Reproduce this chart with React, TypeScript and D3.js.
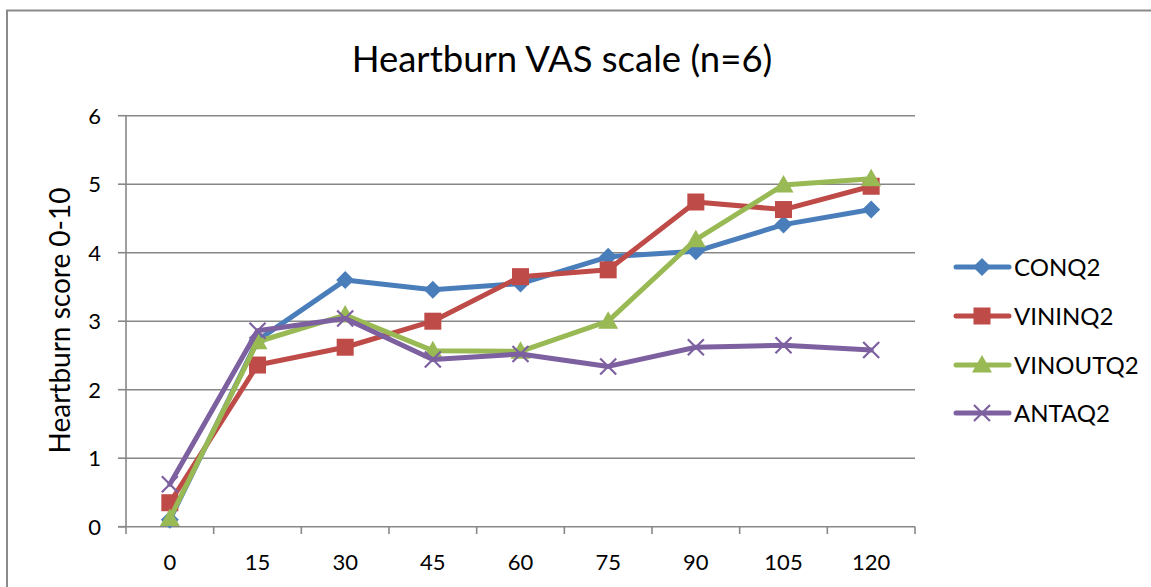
import React from "react";
import * as d3 from "d3";

const categories = ["0", "15", "30", "45", "60", "75", "90", "105", "120"];
const seriesNames = ["CONQ2", "VININQ2", "VINOUTQ2", "ANTAQ2"];
const conq2 = [0.1, 2.72, 3.6, 3.46, 3.55, 3.94, 4.02, 4.41, 4.63];
const vininq2 = [0.35, 2.36, 2.62, 3.0, 3.65, 3.75, 4.74, 4.63, 4.97];
const vinoutq2 = [0.12, 2.7, 3.09, 2.57, 2.56, 3.0, 4.19, 4.99, 5.08];
const antaq2 = [0.62, 2.86, 3.04, 2.44, 2.52, 2.34, 2.62, 2.65, 2.58];
const yTicks = [0, 1, 2, 3, 4, 5, 6];
const colors = ["#4A7EBB", "#BE4B48", "#98B954", "#7D60A0"];
const markers = ["diamond", "square", "triangle", "x"];

const FONT = "Lato, 'Open Sans', sans-serif";

function Marker({ type, x, y, color }: { type: string; x: number; y: number; color: string }) {
  if (type === "diamond") {
    const r = 9;
    return <path d={`M${x},${y - r}L${x + r},${y}L${x},${y + r}L${x - r},${y}Z`} fill={color} />;
  }
  if (type === "square") {
    const r = 8.5;
    return <rect x={x - r} y={y - r} width={2 * r} height={2 * r} fill={color} />;
  }
  if (type === "triangle") {
    const r = 10;
    return <path d={`M${x},${y - r}L${x + r},${y + r * 0.75}L${x - r},${y + r * 0.75}Z`} fill={color} />;
  }
  const r = 8;
  return (
    <path d={`M${x - r},${y - r}L${x + r},${y + r}M${x + r},${y - r}L${x - r},${y + r}`} stroke={color} strokeWidth={2.2} fill="none" />
  );
}

export default function App() {
  const W = 1151, H = 587;
  const x = d3.scaleBand<string>().domain(categories).range([126, 915]);
  const y = d3.scaleLinear().domain([0, 6]).range([526.7, 115.7]);
  const allSeries = [conq2, vininq2, vinoutq2, antaq2];
  const line = d3
    .line<number>()
    .x((_, i) => (x(categories[i]) as number) + x.bandwidth() / 2)
    .y((d) => y(d));
  const grid = "#878787";
  const legendY = [267, 316, 365, 413];

  return (
    <svg width={W} height={H} style={{ position: "absolute", left: 0, top: 0, background: "#fff" }}>
      <path d={`M7,${H}V10.5H${W}`} fill="none" stroke="#8a8a8a" strokeWidth={2} />
      <text x={562} y={72} textAnchor="middle" fontFamily={FONT} fontSize={36.5} fill="#000">
        Heartburn VAS scale (n=6)
      </text>
      {yTicks.map((t) => (
        <g key={t}>
          {t > 0 && <line x1={126} x2={915} y1={y(t)} y2={y(t)} stroke={grid} strokeWidth={1.6} />}
          <line x1={118} x2={126} y1={y(t)} y2={y(t)} stroke={grid} strokeWidth={1.6} />
          <text x={101} y={y(t) + 8} textAnchor="end" fontFamily={FONT} fontSize={22} fill="#000">
            {t}
          </text>
        </g>
      ))}
      <line x1={126} x2={126} y1={115.7} y2={534} stroke={grid} strokeWidth={1.6} />
      <line x1={118} x2={915} y1={y(0)} y2={y(0)} stroke={grid} strokeWidth={1.6} />
      {categories.map((c, i) => (
        <g key={c}>
          <line
            x1={(x(c) as number) + x.bandwidth()}
            x2={(x(c) as number) + x.bandwidth()}
            y1={y(0)}
            y2={534}
            stroke={grid}
            strokeWidth={1.6}
          />
          <text x={(x(c) as number) + x.bandwidth() / 2} y={569.5} textAnchor="middle" fontFamily={FONT} fontSize={22} fill="#000">
            {c}
          </text>
        </g>
      ))}
      <text
        transform={`translate(69.5,320.5) rotate(-90)`}
        textAnchor="middle"
        fontFamily={FONT}
        fontSize={28}
        fill="#000"
      >
        Heartburn score 0-10
      </text>
      {allSeries.map((s, si) => (
        <g key={si}>
          <path d={line(s) || ""} fill="none" stroke={colors[si]} strokeWidth={5} strokeLinejoin="round" strokeLinecap="round" />
          {s.map((v, i) => (
            <Marker key={i} type={markers[si]} x={(x(categories[i]) as number) + x.bandwidth() / 2} y={y(v)} color={colors[si]} />
          ))}
        </g>
      ))}
      {seriesNames.map((n, si) => (
        <g key={n}>
          <line x1={956} x2={1009} y1={legendY[si]} y2={legendY[si]} stroke={colors[si]} strokeWidth={5} strokeLinecap="round" />
          <Marker type={markers[si]} x={982} y={legendY[si]} color={colors[si]} />
          <text x={1014} y={legendY[si] + 9} fontFamily={FONT} fontSize={24} fill="#000">
            {n}
          </text>
        </g>
      ))}
    </svg>
  );
}
